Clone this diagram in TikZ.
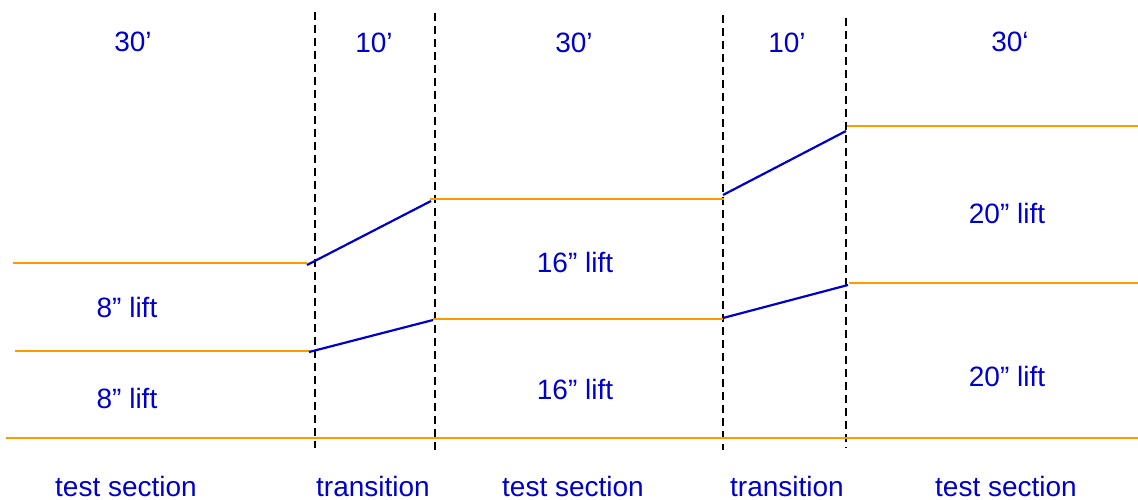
\documentclass[tikz,border=0pt]{standalone}
\usepackage{fontspec}
\setmainfont{Liberation Sans}
\definecolor{lblue}{HTML}{0000CC}
\definecolor{lorange}{HTML}{FF9900}
\tikzset{
  lbl/.style={text=lblue, font=\fontsize{28}{34}\selectfont, anchor=base, inner sep=0pt},
  level/.style={draw=lorange, line width=2.2pt},
  ramp/.style={draw=lblue, line width=2.2pt},
  divider/.style={draw=black, line width=2.4pt, dash pattern=on 8pt off 5pt}
}
\begin{document}
\begin{tikzpicture}[x=1pt, y=-1pt]
\useasboundingbox (0,0) rectangle (1138,500);
% dividers
\coordinate (d1t) at (315,12);  \coordinate (d1b) at (315,448);
\coordinate (d2t) at (435,13);  \coordinate (d2b) at (435,450);
\coordinate (d3t) at (723,15);  \coordinate (d3b) at (723,450);
\coordinate (d4t) at (846,18);  \coordinate (d4b) at (846,448);
\draw[divider] (d1t) -- (d1b);
\draw[divider] (d2t) -- (d2b);
\draw[divider] (d3t) -- (d3b);
\draw[divider] (d4t) -- (d4b);
% level lines
\coordinate (a1) at (13,263);   \coordinate (a2) at (307,263);
\coordinate (b1) at (15,351);   \coordinate (b2) at (310,351);
\coordinate (g1) at (6,438);    \coordinate (g2) at (1138,438);
\coordinate (c1) at (430,199);  \coordinate (c2) at (724,199);
\coordinate (e1) at (433,319);  \coordinate (e2) at (723,319);
\coordinate (f1) at (847,126);  \coordinate (f2) at (1138,126);
\coordinate (h1) at (849,283);  \coordinate (h2) at (1138,283);
\draw[level] (a1) -- (a2);
\draw[level] (b1) -- (b2);
\draw[level] (g1) -- (g2);
\draw[level] (c1) -- (c2);
\draw[level] (e1) -- (e2);
\draw[level] (f1) -- (f2);
\draw[level] (h1) -- (h2);
% ramps
\coordinate (r1s) at (307,265); \coordinate (r1e) at (431,201);
\coordinate (r2s) at (309,352); \coordinate (r2e) at (433,320);
\coordinate (r3s) at (723,195); \coordinate (r3e) at (846,131);
\coordinate (r4s) at (723,318); \coordinate (r4e) at (848,285);
\draw[ramp] (r1s) -- (r1e);
\draw[ramp] (r2s) -- (r2e);
\draw[ramp] (r3s) -- (r3e);
\draw[ramp] (r4s) -- (r4e);
% lengths
\node[lbl] (L1) at (133,52) {30’};
\node[lbl] (L2) at (374,53) {10’};
\node[lbl] (L3) at (574,53) {30’};
\node[lbl] (L4) at (787,53) {10’};
\node[lbl] (L5) at (1010,52) {30‘};
% lifts
\node[lbl] (S1a) at (127,317) {8” lift};
\node[lbl] (S1b) at (127,408) {8” lift};
\node[lbl] (S2a) at (575,272) {16” lift};
\node[lbl] (S2b) at (575,399) {16” lift};
\node[lbl] (S3a) at (1007,223) {20” lift};
\node[lbl] (S3b) at (1007,386) {20” lift};
% section names
\node[lbl] (N1) at (126,496) {test section};
\node[lbl] (N2) at (373,496) {transition};
\node[lbl] (N3) at (573,496) {test section};
\node[lbl] (N4) at (787,496) {transition};
\node[lbl] (N5) at (1006,496) {test section};
\end{tikzpicture}
\end{document}
